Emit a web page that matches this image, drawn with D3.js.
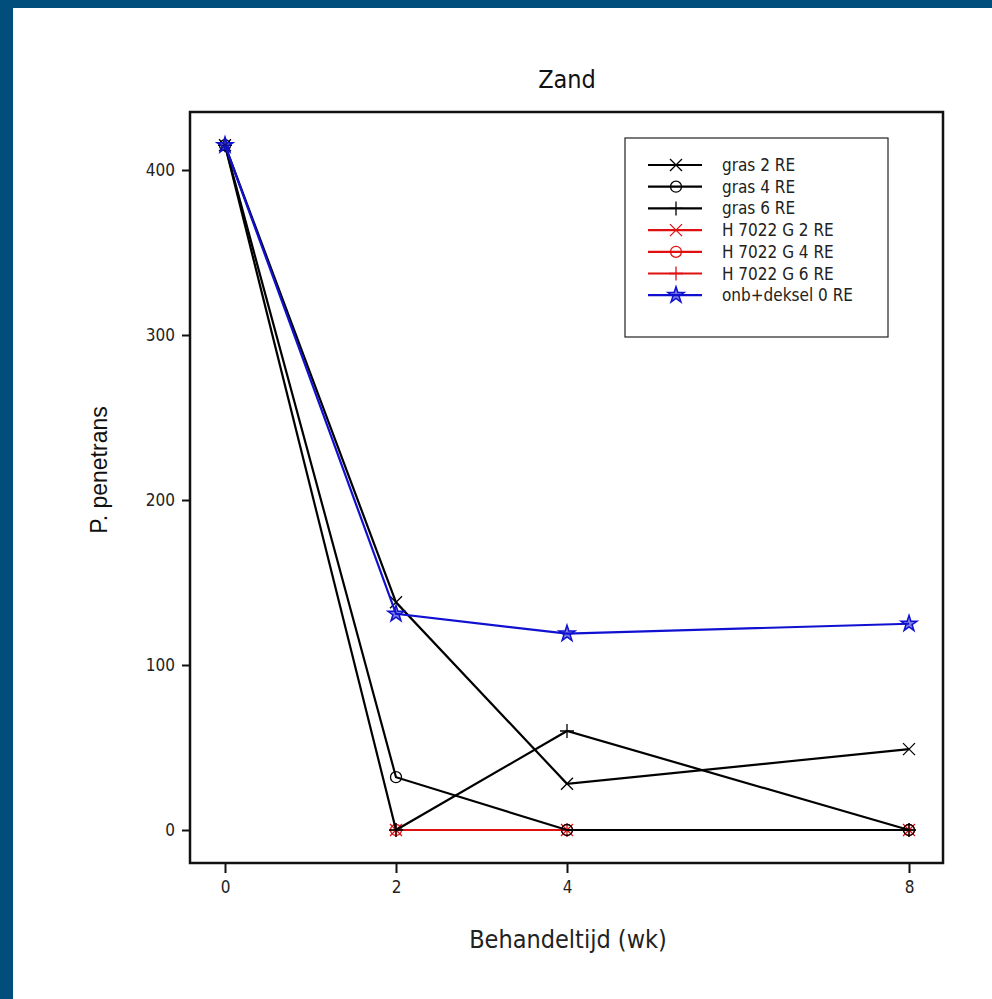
<!DOCTYPE html>
<html>
<head>
<meta charset="utf-8">
<script src="https://cdn.jsdelivr.net/npm/d3@7"></script>
<style>
  html, body { margin:0; padding:0; background:#fff; }
  svg { display:block; }
  .narrow { font-family:"Liberation Sans Narrow","DejaVu Sans Condensed","Arial Narrow",sans-serif; }
</style>
</head>
<body>
<div id="chart"></div>
<script>
// weeks of treatment
var weeks = [0, 2, 4, 8];
var xTicks = [0, 2, 4, 8];
var yTicks = [0, 100, 200, 300, 400];

// P. penetrans counts per series (null = not measured)
var gras2 = [415, 138, 28, 49];
var gras4 = [415, 32, 0, 0];
var gras6 = [415, 0, 60, 0];
var h2 = [null, 0, 0, 0];
var h4 = [null, 0, 0, 0];
var h6 = [null, 0, 0, 0];
var onb = [415, 131, 119, 125];

var seriesNames = ["gras 2 RE","gras 4 RE","gras 6 RE","H 7022 G 2 RE","H 7022 G 4 RE","H 7022 G 6 RE","onb+deksel 0 RE"];
var seriesValues = [gras2, gras4, gras6, h2, h4, h6, onb];
var seriesColors = ["#000","#000","#000","#e01010","#e01010","#e01010","#1010d0"];
var seriesSymbols = ["x","o","+","x","o","+","star"];
// red drawn first so the black lines lie on top where they coincide
var drawOrder = [3,4,5,0,1,2,6];

var W = 992, H = 999;
var svg = d3.select("#chart").append("svg")
  .attr("width", W).attr("height", H);

// blue page border (top and left)
svg.append("rect").attr("x",0).attr("y",0).attr("width",W).attr("height",8).attr("fill","#014d7c");
svg.append("rect").attr("x",0).attr("y",0).attr("width",13).attr("height",H).attr("fill","#014d7c");

var frame = {left:190, top:112, right:943, bottom:863};

var x = d3.scaleLinear().domain([0, 8]).range([225, 909]);
var y = d3.scaleLinear().domain([0, 400]).range([830, 170]);

// frame
svg.append("rect")
  .attr("x", frame.left).attr("y", frame.top)
  .attr("width", frame.right-frame.left).attr("height", frame.bottom-frame.top)
  .attr("fill","none").attr("stroke","#111").attr("stroke-width",2.5);

var xAxis = d3.axisBottom(x).tickValues(xTicks).tickSize(10).tickPadding(8).tickSizeOuter(0);
var gx = svg.append("g")
  .attr("transform","translate(0,"+frame.bottom+")").call(xAxis)
  .attr("font-size",17).attr("font-family",null).attr("class","narrow");
gx.select(".domain").remove();
gx.selectAll("line").attr("stroke","#111").attr("stroke-width",2);
gx.selectAll("text").attr("fill","#222");

var yAxis = d3.axisLeft(y).tickValues(yTicks).tickSize(8).tickPadding(7).tickSizeOuter(0);
var gy = svg.append("g")
  .attr("transform","translate("+frame.left+",0)").call(yAxis)
  .attr("font-size",17).attr("font-family",null).attr("class","narrow");
gy.select(".domain").remove();
gy.selectAll("line").attr("stroke","#111").attr("stroke-width",2);
gy.selectAll("text").attr("fill","#222");

// titles
svg.append("text").attr("class","narrow")
  .attr("x",567).attr("y",88).attr("text-anchor","middle")
  .attr("font-size",25).attr("fill","#111").text("Zand");
svg.append("text").attr("class","narrow")
  .attr("x",568).attr("y",948).attr("text-anchor","middle")
  .attr("font-size",25).attr("fill","#222").text("Behandeltijd (wk)");
svg.append("text")
  .attr("transform","translate(107,470) rotate(-90)")
  .attr("text-anchor","middle").attr("font-family","Liberation Sans, Arial, sans-serif")
  .attr("font-size",23).attr("fill","#111").text("P. penetrans");

function drawSymbol(g, type, cx, cy, color) {
  if (type === "x") {
    g.append("path").attr("d","M"+(cx-6)+","+(cy-6)+"L"+(cx+6)+","+(cy+6)+"M"+(cx-6)+","+(cy+6)+"L"+(cx+6)+","+(cy-6))
      .attr("stroke",color).attr("stroke-width",1.3).attr("fill","none");
  } else if (type === "o") {
    g.append("circle").attr("cx",cx).attr("cy",cy).attr("r",5.5)
      .attr("stroke",color).attr("stroke-width",1.3).attr("fill","none");
  } else if (type === "+") {
    g.append("path").attr("d","M"+(cx-7)+","+cy+"L"+(cx+7)+","+cy+"M"+cx+","+(cy-7)+"L"+cx+","+(cy+7))
      .attr("stroke",color).attr("stroke-width",1.3).attr("fill","none");
  } else {
    g.append("path").attr("d", d3.symbol().type(d3.symbolStar).size(80)())
      .attr("transform","translate("+cx+","+cy+")")
      .attr("stroke",color).attr("stroke-width",1.5).attr("fill",color).attr("fill-opacity",0.55);
  }
}

var line = d3.line()
  .defined(function(d){ return d[1] !== null; })
  .x(function(d){ return x(d[0]); })
  .y(function(d){ return y(d[1]); });

drawOrder.forEach(function(i) {
  var pts = weeks.map(function(w, j){ return [w, seriesValues[i][j]]; });
  var g = svg.append("g");
  g.append("path").attr("d", line(pts))
    .attr("fill","none").attr("stroke",seriesColors[i]).attr("stroke-width",2.2);
  pts.forEach(function(p){
    if (p[1] !== null) drawSymbol(g, seriesSymbols[i], x(p[0]), y(p[1]), seriesColors[i]);
  });
});

// legend
var lg = svg.append("g");
lg.append("rect").attr("x",625).attr("y",138).attr("width",263).attr("height",199)
  .attr("fill","#fff").attr("stroke","#222").attr("stroke-width",1.2);
seriesNames.forEach(function(name, i) {
  var ly = 165 + i*21.7;
  lg.append("line").attr("x1",648).attr("x2",702).attr("y1",ly).attr("y2",ly)
    .attr("stroke",seriesColors[i]).attr("stroke-width",2.2);
  drawSymbol(lg, seriesSymbols[i], 676, ly, seriesColors[i]);
  lg.append("text").attr("class","narrow").attr("x",722).attr("y",ly+6)
    .attr("font-size",17).attr("fill","#222").text(name);
});
</script>
</body>
</html>
